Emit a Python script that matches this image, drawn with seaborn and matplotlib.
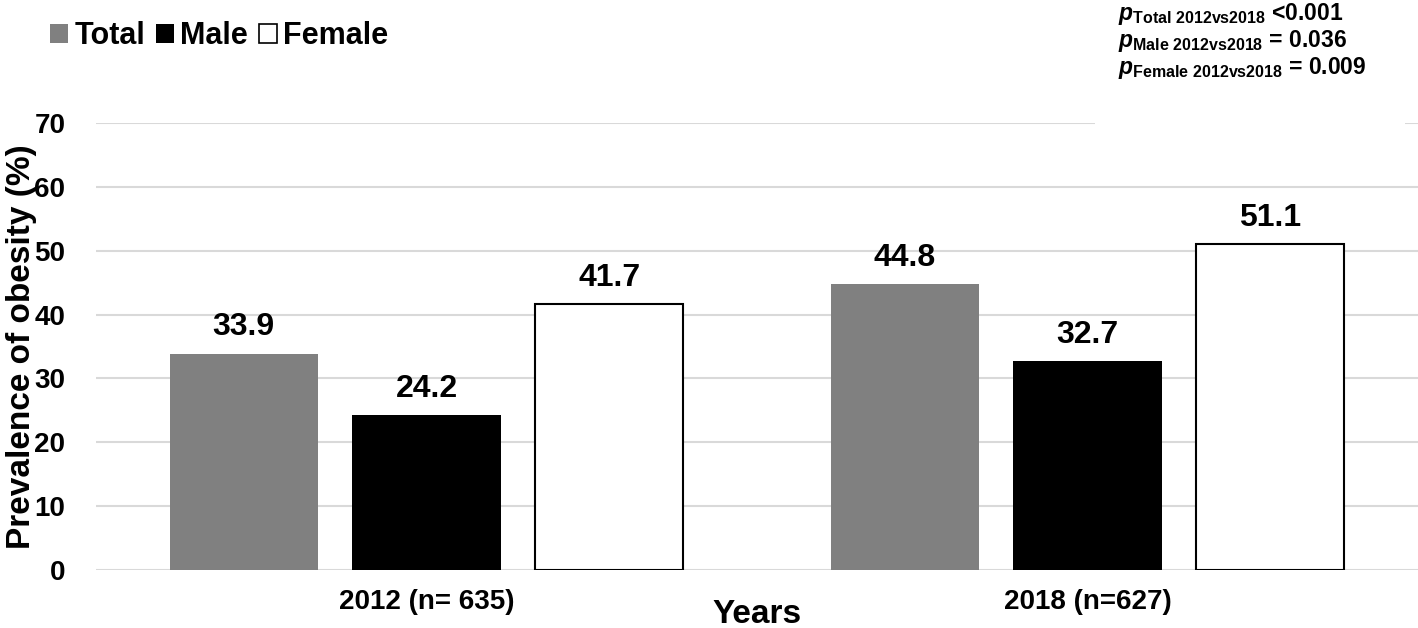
import matplotlib
matplotlib.use("Agg")
import matplotlib.pyplot as plt
import pandas as pd
import seaborn as sns
from matplotlib.patches import Rectangle

# data
years = ["2012 (n= 635)", "2018 (n=627)"]
groups = ["Total", "Male", "Female"]
total = [33.9, 44.8]
male = [24.2, 32.7]
female = [41.7, 51.1]
yticks = [0, 10, 20, 30, 40, 50, 60, 70]
p_lines = [
    ("Total", "<0.001"),
    ("Male", "= 0.036"),
    ("Female", "= 0.009"),
]

colors = {"Total": "#808080", "Male": "#000000", "Female": "#ffffff"}
edges = {"Total": "#808080", "Male": "#000000", "Female": "#000000"}

df = pd.DataFrame({
    "year": years * 3,
    "group": [g for g in groups for _ in years],
    "value": total + male + female,
})

sns.set_theme(style="white")
plt.rcParams["font.family"] = ["Liberation Sans", "DejaVu Sans"]
plt.rcParams["font.weight"] = "bold"
for key in ["text.color", "axes.labelcolor", "xtick.color", "ytick.color"]:
    plt.rcParams[key] = "black"
plt.rcParams["mathtext.fontset"] = "custom"
plt.rcParams["mathtext.rm"] = "Liberation Sans:bold"
plt.rcParams["mathtext.it"] = "Liberation Sans:bold:italic"
plt.rcParams["mathtext.bf"] = "Liberation Sans:bold"

fig = plt.figure(figsize=(14.18, 6.28), dpi=100)
ax = fig.add_axes([96 / 1418, 58 / 628, 1 - 96 / 1418, 447 / 628])

sns.barplot(
    data=df, x="year", y="value", hue="group", order=years, hue_order=groups,
    palette=colors, width=0.83, gap=0.19, ax=ax, linewidth=0, zorder=2,
)

for g, cont in zip(groups, ax.containers):
    for bar in cont:
        bar.set_edgecolor(edges[g])
        bar.set_linewidth(1.5 if g == "Female" else 0)
    ax.bar_label(cont, fmt="%.1f", padding=8, fontsize=23, fontweight="bold",
                 color="black")

handles, labels = ax.get_legend_handles_labels()
if ax.get_legend() is not None:
    ax.get_legend().remove()
for h, lab in zip(handles, labels):
    h.set_edgecolor(edges[lab])
    h.set_linewidth(1.2 if lab == "Female" else 0)
fig.legend(
    handles, labels, loc="center left", bbox_to_anchor=(50 / 1418, 1 - 36 / 628),
    ncol=3, frameon=False, borderpad=0, borderaxespad=0,
    handlelength=0.6, handleheight=0.6, handletextpad=0.2, columnspacing=0.35,
    prop={"size": 22, "weight": "bold"},
)

ax.set_xlim(-0.5, 1.5)
ax.set_ylim(0, 70)
ax.set_yticks(yticks)
ax.yaxis.grid(True, color="#d9d9d9", linewidth=1.5, zorder=0)
ax.set_axisbelow(True)
sns.despine(ax=ax, left=True, bottom=True)
ax.tick_params(axis="both", length=0, labelsize=20, labelcolor="black")
ax.tick_params(axis="y", pad=22)
ax.tick_params(axis="x", pad=14)
for t in ax.get_xticklabels() + ax.get_yticklabels():
    t.set_fontweight("bold")

ax.set_xlabel("Years", fontsize=24, fontweight="bold")
ax.xaxis.set_label_coords(0.5, -0.064)
ax.set_ylabel("Prevalence of obesity (%)", fontsize=24, fontweight="bold")
ax.yaxis.set_label_coords(-0.045, 0.5)

# white box of the p-value annotation sits over the top gridline
ax.add_patch(Rectangle((0.756, 0.985), 0.234, 0.04, transform=ax.transAxes,
                       facecolor="white", edgecolor="none", clip_on=False, zorder=3))

for i, (g, val) in enumerate(p_lines):
    fig.text(1118 / 1418, 1 - (20 + 27 * i) / 628,
             r"$p_{\mathrm{" + g + r"\ 2012vs2018}}$ " + val,
             fontsize=16.5, fontweight="bold", va="baseline", ha="left")

fig.savefig("out.png", dpi=100)
